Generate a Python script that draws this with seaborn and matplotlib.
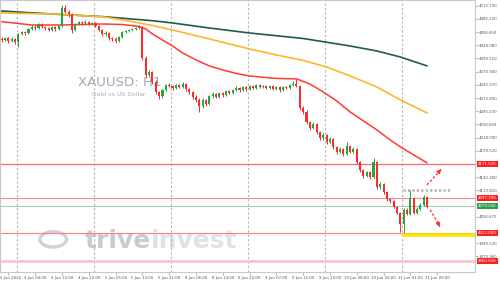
import numpy as np
import pandas as pd
import matplotlib
matplotlib.use("Agg")
import matplotlib.pyplot as plt
import matplotlib.transforms as mtransforms
import seaborn as sns

# ---------------- data ----------------
opens = [4442.0, 4439.6, 4443.9, 4437.4, 4441.8, 4435.3, 4452.6, 4456.9, 4454.7, 4463.4,
         4467.7, 4465.5, 4474.2, 4467.7, 4465.5, 4461.2, 4467.7, 4463.4, 4469.9, 4508.8,
         4500.2, 4495.8, 4461.2, 4474.2, 4478.5, 4476.3, 4478.5, 4474.2, 4476.3, 4469.9,
         4461.2, 4452.6, 4454.7, 4443.9, 4441.8, 4437.4, 4446.1, 4456.9, 4459.1, 4461.2,
         4463.4, 4465.5, 4467.7, 4400.7, 4363.9, 4370.4, 4348.8, 4327.1, 4318.5, 4331.5,
         4342.3, 4340.1, 4335.8, 4342.3, 4337.9, 4344.4, 4333.6, 4327.1, 4316.3, 4309.8,
         4296.9, 4309.8, 4301.2, 4318.5, 4322.8, 4316.3, 4325.0, 4320.6, 4329.3, 4325.0,
         4331.5, 4335.8, 4331.5, 4337.9, 4333.6, 4340.1, 4335.8, 4342.3, 4337.9, 4340.1,
         4335.8, 4340.1, 4333.6, 4337.9, 4331.5, 4337.9, 4335.8, 4342.3, 4344.4, 4340.1,
         4292.5, 4283.9, 4262.3, 4249.3, 4257.9, 4240.6, 4227.7, 4234.2, 4219.0, 4225.5,
         4208.2, 4197.4, 4203.9, 4193.1, 4210.4, 4197.4, 4203.9, 4175.8, 4158.5, 4145.5,
         4154.1, 4143.3, 4175.8, 4121.7, 4128.2, 4110.9, 4095.7, 4091.4, 4078.5, 4065.5,
         4041.7, 4072.0, 4063.3, 4097.9, 4065.5, 4074.1, 4082.8, 4100.1]
closes = [4439.6, 4443.9, 4437.4, 4441.8, 4435.3, 4452.6, 4456.9, 4454.7, 4463.4, 4467.7,
          4465.5, 4474.2, 4467.7, 4465.5, 4461.2, 4467.7, 4463.4, 4469.9, 4508.8, 4500.2,
          4495.8, 4461.2, 4474.2, 4478.5, 4476.3, 4478.5, 4474.2, 4476.3, 4469.9, 4461.2,
          4452.6, 4454.7, 4443.9, 4441.8, 4437.4, 4446.1, 4456.9, 4459.1, 4461.2, 4463.4,
          4465.5, 4467.7, 4400.7, 4363.9, 4370.4, 4348.8, 4327.1, 4318.5, 4331.5, 4342.3,
          4340.1, 4335.8, 4342.3, 4337.9, 4344.4, 4333.6, 4327.1, 4316.3, 4309.8, 4296.9,
          4309.8, 4301.2, 4318.5, 4322.8, 4316.3, 4325.0, 4320.6, 4329.3, 4325.0, 4331.5,
          4335.8, 4331.5, 4337.9, 4333.6, 4340.1, 4335.8, 4342.3, 4337.9, 4340.1, 4335.8,
          4340.1, 4333.6, 4337.9, 4331.5, 4337.9, 4335.8, 4342.3, 4344.4, 4340.1, 4292.5,
          4283.9, 4262.3, 4249.3, 4257.9, 4240.6, 4227.7, 4234.2, 4219.0, 4225.5, 4208.2,
          4197.4, 4203.9, 4193.1, 4210.4, 4197.4, 4203.9, 4175.8, 4158.5, 4145.5, 4154.1,
          4143.3, 4175.8, 4121.7, 4128.2, 4110.9, 4095.7, 4091.4, 4078.5, 4065.5, 4041.7,
          4072.0, 4063.3, 4097.9, 4065.5, 4074.1, 4082.8, 4100.1, 4078.5]
highs = [4445, 4447, 4446, 4445, 4444, 4455, 4460, 4460, 4466, 4471,
         4471, 4477, 4476, 4470, 4468, 4470, 4470, 4473, 4515, 4516,
         4505, 4498, 4477, 4481, 4481, 4482, 4481, 4479, 4479, 4472,
         4463, 4458, 4457, 4447, 4445, 4449, 4459, 4462, 4464, 4466,
         4468, 4471, 4470, 4404, 4374, 4373, 4352, 4330, 4334, 4345,
         4346, 4343, 4345, 4345, 4348, 4347, 4336, 4330, 4320, 4313,
         4313, 4312, 4321, 4326, 4325, 4328, 4328, 4332, 4332, 4334,
         4339, 4338, 4341, 4340, 4343, 4343, 4345, 4345, 4343, 4343,
         4343, 4343, 4341, 4340, 4341, 4341, 4345, 4350, 4355, 4343,
         4296, 4287, 4265, 4261, 4260, 4243, 4238, 4237, 4229, 4228,
         4211, 4207, 4206, 4218, 4213, 4207, 4206, 4178, 4161, 4157,
         4157, 4184, 4178, 4132, 4131, 4113, 4098, 4094, 4081, 4068,
         4075, 4076, 4115, 4100, 4077, 4086, 4104, 4102]
lows = [4436, 4437, 4434, 4435, 4430, 4424, 4450, 4451, 4452, 4461,
        4462, 4463, 4465, 4462, 4458, 4459, 4460, 4461, 4467, 4497,
        4490, 4455, 4459, 4471, 4473, 4473, 4471, 4471, 4467, 4458,
        4449, 4448, 4440, 4438, 4432, 4435, 4444, 4454, 4456, 4459,
        4461, 4463, 4396, 4358, 4360, 4345, 4323, 4312, 4315, 4329,
        4337, 4332, 4333, 4335, 4335, 4330, 4323, 4312, 4305, 4284,
        4293, 4297, 4298, 4315, 4313, 4313, 4317, 4318, 4322, 4322,
        4329, 4328, 4329, 4330, 4331, 4333, 4333, 4335, 4335, 4333,
        4333, 4331, 4331, 4328, 4329, 4333, 4333, 4340, 4337, 4288,
        4279, 4258, 4245, 4246, 4236, 4223, 4224, 4214, 4216, 4204,
        4192, 4194, 4189, 4190, 4194, 4194, 4171, 4154, 4141, 4142,
        4139, 4141, 4118, 4118, 4107, 4092, 4087, 4075, 4062, 4024,
        4022, 4060, 4061, 4062, 4063, 4071, 4080, 4076]

# moving averages, read at these bar positions
ma200_bars = [0, 15, 30, 45, 51, 62, 74, 90, 104, 112, 119, 127]
ma200 = [4502.3, 4495.8, 4490.2, 4481.3, 4476.4, 4465.5, 4454.7, 4442.8, 4426.6, 4415.8,
         4402.8, 4383.4]
ma100_bars = [0, 15, 30, 38, 45, 51, 62, 74, 82, 90, 97, 104, 112, 119, 127]
ma100 = [4498.0, 4495.8, 4490.0, 4480.7, 4471.0, 4461.2, 4441.8, 4420.1, 4407.2, 4395.3,
         4381.2, 4361.7, 4337.9, 4309.8, 4281.7]
ma50_bars = [0, 9, 18, 30, 36, 41, 43, 45, 48, 51, 54, 58, 62, 66, 70, 74, 82, 88, 92, 96,
             100, 104, 108, 112, 116, 119, 123, 127]
ma50 = [4479.2, 4472.0, 4472.0, 4474.2, 4473.1, 4468.8, 4463.4, 4452.6, 4439.6, 4426.6,
        4411.5, 4396.4, 4383.4, 4374.7, 4367.1, 4361.7, 4356.3, 4355.3, 4344.4, 4327.1,
        4307.7, 4283.9, 4264.4, 4244.9, 4223.3, 4208.2, 4190.9, 4173.6]

# horizontal levels
level_res = 4171.53
level_r2 = 4097.79
level_green = 4079.56
level_support = 4022.00
level_low = 3960.93
level_box = 4115.2

y_ticks = [3970.960, 3999.530, 4028.100, 4056.670, 4085.240, 4113.810, 4142.380, 4170.950,
           4199.520, 4228.090, 4256.660, 4285.230, 4313.800, 4342.370, 4370.940, 4399.510,
           4428.080, 4456.650, 4485.220, 4513.790]
# tick labels hidden beneath the price tags in the reference
hidden_ticks = [4028.100, 4085.240, 4170.950]
x_tick_bars = [2, 10, 18, 26, 34, 42, 50, 58, 66, 74, 82, 90, 98, 106, 114, 122, 130]
x_tick_labels = ["2 Jun 2026", "4 Jun 04:00", "4 Jun 12:00", "4 Jun 20:00", "5 Jun 05:00",
                 "5 Jun 13:00", "5 Jun 21:00", "8 Jun 06:00", "8 Jun 14:00", "8 Jun 22:00",
                 "9 Jun 07:00", "9 Jun 15:00", "9 Jun 23:00", "10 Jun 08:00", "10 Jun 16:00",
                 "11 Jun 01:00", "11 Jun 09:00"]
day_breaks = [4.5, 27.5, 50.5, 73.5, 96.5, 119.5]

# ---------------- figure ----------------
sns.set_style("white")
plt.rcParams['font.family'] = ['DejaVu Sans']

fig = plt.figure(figsize=(5.0, 2.81), dpi=100)
ax = fig.add_axes([0.0, 9 / 281, 475 / 500, 1 - 9 / 281])
ax.set_xlim(-0.5, 141.3)
ax.set_ylim(3937.4, 4526.1)

GREEN = "#22a83c"
RED = "#ff2a2a"

# day separators
for b in day_breaks:
    ax.axvline(b, color="#b5b5b5", lw=0.8, ls=(0, (2, 2)), zorder=1)

# watermark texts
ax.text(0.253, 0.695, "XAUUSD: H1", transform=ax.transAxes, fontsize=9.6,
        color="#8f9ba8", alpha=0.85, ha="center", va="center", zorder=0)
ax.text(0.25, 0.651, "Gold vs US Dollar", transform=ax.transAxes, fontsize=4.4,
        color="#8f9ba8", alpha=0.85, ha="center", va="center", zorder=0)
ax.text(0.318, 0.115, "trive", transform=ax.transAxes, fontsize=18, fontweight="bold",
        color="#b9bfc7", alpha=0.8, ha="right", va="center", zorder=0)
ax.text(0.318, 0.115, "invest", transform=ax.transAxes, fontsize=18, fontweight="bold",
        color="#d8dce1", alpha=0.8, ha="left", va="center", zorder=0)
circ = plt.Circle((0.112, 0.12), 0.028, transform=ax.transAxes, fill=False,
                  ec="#d0d4d9", lw=2.5, zorder=0)
ax.add_patch(circ)

# horizontal levels
ax.axhline(level_res, color="#ff6b6b", lw=0.9, zorder=2)
ax.axhline(level_r2, color="#ff8c8c", lw=0.8, zorder=2)
ax.axhline(level_green, color="#9ed3a8", lw=0.8, zorder=2)
ax.axhline(level_support, color="#ff8080", lw=0.8, zorder=2)
ax.hlines(level_support - 3.5, 119.5, 141.3, color="#ffe400", lw=2.6, zorder=2)
ax.axhline(level_low, color="#ffc2ca", lw=2.0, zorder=2)
ax.hlines(level_box, 119.8, 133.8, color="#b8b8b8", lw=2.0, ls=(0, (0.8, 0.8)), zorder=2)

# moving averages via seaborn
df200 = pd.DataFrame({"bar": ma200_bars, "v": ma200})
df100 = pd.DataFrame({"bar": ma100_bars, "v": ma100})
df50 = pd.DataFrame({"bar": ma50_bars, "v": ma50})
sns.lineplot(data=df200, x="bar", y="v", ax=ax, color="#1f5c48", lw=1.2, zorder=3)
sns.lineplot(data=df100, x="bar", y="v", ax=ax, color="#ffb62e", lw=1.2, zorder=3)
sns.lineplot(data=df50, x="bar", y="v", ax=ax, color="#ff3b30", lw=1.1, zorder=3)

# candles
idx = np.arange(len(closes))
o = np.array(opens)
c = np.array(closes)
h = np.array(highs)
l = np.array(lows)
up = c >= o
cols = np.where(up, GREEN, RED)
ax.vlines(idx, l, h, colors=cols, lw=0.7, zorder=4)
body_lo = np.minimum(o, c)
body_h = np.maximum(np.abs(c - o), 1.0)
ax.bar(idx, body_h, bottom=body_lo, width=0.62, color=cols, lw=0, zorder=5)

# arrows
ax.plot([127.0, 131.0], [4126.0, 4158.0], color=RED, lw=0.9, ls=(0, (2, 1.5)), zorder=6)
ax.annotate("", xy=(131.7, 4165.0), xytext=(130.6, 4155.0),
            arrowprops=dict(arrowstyle="-|>", color=RED, lw=0.8, mutation_scale=6), zorder=6)
ax.plot([127.9, 130.7], [4072.0, 4038.0], color=RED, lw=0.9, ls=(0, (2, 1.5)), zorder=6)
ax.annotate("", xy=(131.2, 4030.0), xytext=(130.4, 4041.0),
            arrowprops=dict(arrowstyle="-|>", color=RED, lw=0.8, mutation_scale=6), zorder=6)

# axes styling
for s in ["left", "top", "bottom", "right"]:
    ax.spines[s].set_color("#c8c8c8")
    ax.spines[s].set_linewidth(0.8)
ax.yaxis.tick_right()
ax.set_yticks(y_ticks)
ax.set_yticklabels(["" if v in hidden_ticks else f"{v:.3f}" for v in y_ticks])
ax.set_xticks(x_tick_bars)
ax.set_xticklabels(x_tick_labels)
ax.tick_params(axis="y", right=True, left=False, length=2, width=0.5, colors="#999999",
               labelsize=2.8, labelcolor="#555555", pad=1)
ax.tick_params(axis="x", bottom=True, length=2, width=0.5, colors="#999999",
               labelsize=2.8, labelcolor="#555555", pad=0.8)
ax.set_xlabel("")
ax.set_ylabel("")
ax.grid(False)
first = ax.get_xticklabels()[0]
first.set_transform(first.get_transform() +
                    mtransforms.ScaledTranslation(2.5 / 100, 0, fig.dpi_scale_trans))

# price tags on the right axis
trans = mtransforms.blended_transform_factory(ax.transAxes, ax.transData)
for val, col in [(level_res, "#ff1f1f"), (level_r2, "#ff1f1f"), (level_green, "#2e9e4c"),
                 (level_support, "#ff1f1f"), (level_low, "#ff1f1f")]:
    ax.text(1.006, val, f"{val:.3f}", transform=trans, fontsize=2.8, color="white",
            ha="left", va="center", zorder=10, clip_on=False,
            bbox=dict(boxstyle="square,pad=0.3", fc=col, ec="none"))

fig.savefig("out.png", dpi=100)
